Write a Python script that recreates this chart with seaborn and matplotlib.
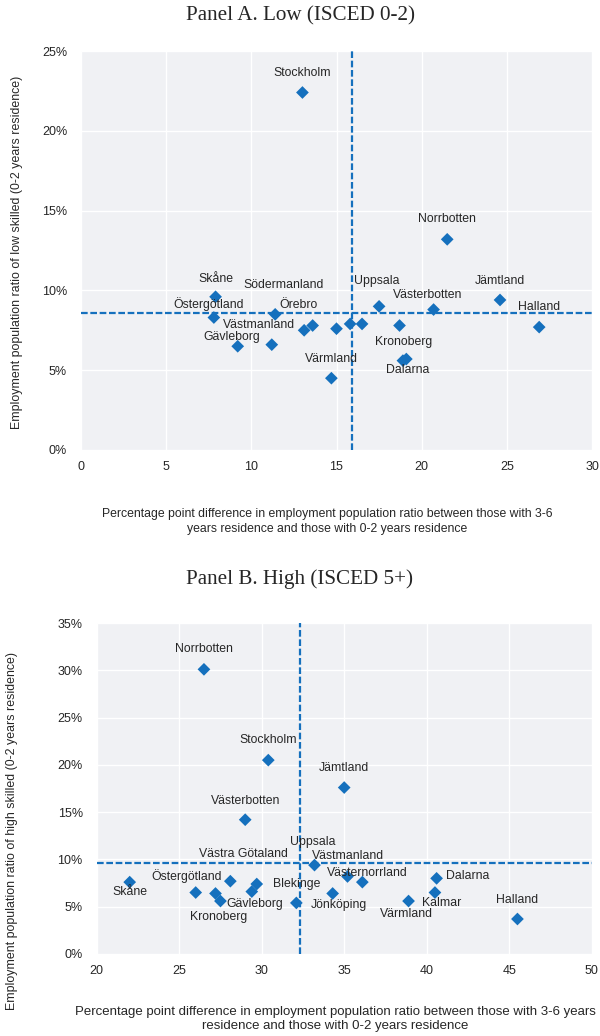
import matplotlib
matplotlib.use("Agg")
import matplotlib.pyplot as plt
import seaborn as sns
import pandas as pd
from matplotlib.ticker import PercentFormatter, MultipleLocator

# ---- Panel A: low-skilled (ISCED 0-2) ----
low_regions = ["Stockholm", "Norrbotten", "Skåne", "Östergötland", "Södermanland",
               "Örebro", "Västmanland", "Gävleborg", "Värmland", "Uppsala",
               "Västerbotten", "Jämtland", "Halland", "Kronoberg", "Dalarna",
               "Jönköping", "Kalmar", "Blekinge", "Västra Götaland", "Västernorrland"]
low_gap = [13.0, 21.5, 7.9, 7.8, 11.4,
           13.6, 11.2, 9.2, 14.7, 17.5,
           20.7, 24.6, 26.9, 19.1, 18.9,
           13.1, 15.0, 15.8, 16.5, 18.7]
low_epr = [22.4, 13.2, 9.6, 8.3, 8.5,
           7.8, 6.6, 6.5, 4.5, 9.0,
           8.8, 9.4, 7.7, 5.7, 5.6,
           7.5, 7.6, 7.9, 7.9, 7.8]
low_avg_gap = 15.9
low_avg_epr = 8.6

# ---- Panel B: high-skilled (ISCED 5+) ----
high_regions = ["Norrbotten", "Stockholm", "Jämtland", "Västerbotten", "Skåne",
                "Östergötland", "Västra Götaland", "Uppsala", "Västmanland", "Västernorrland",
                "Blekinge", "Gävleborg", "Kronoberg", "Jönköping", "Värmland",
                "Dalarna", "Kalmar", "Halland", "Södermanland", "Örebro"]
high_gap = [26.5, 30.4, 35.0, 29.0, 22.0,
            26.0, 28.1, 33.2, 35.2, 36.1,
            32.1, 29.4, 27.5, 34.3, 38.9,
            40.6, 40.5, 45.5, 27.2, 29.7]
high_epr = [30.1, 20.5, 17.6, 14.2, 7.6,
            6.5, 7.7, 9.4, 8.2, 7.6,
            5.4, 6.6, 5.6, 6.4, 5.6,
            8.0, 6.5, 3.7, 6.4, 7.4]
high_avg_gap = 32.3
high_avg_epr = 9.6

# label placement (offset in pixels from the marker, horizontal alignment)
low_label_pos = {
    "Stockholm": (0, 19, "center"), "Norrbotten": (0, 20, "center"),
    "Skåne": (0, 18, "center"), "Östergötland": (-5, 13, "center"),
    "Södermanland": (8, 29, "center"), "Örebro": (-14, 21, "center"),
    "Västmanland": (-13, 20, "center"), "Gävleborg": (-6, 9, "center"),
    "Värmland": (0, 19, "center"), "Uppsala": (-2, 25, "center"),
    "Västerbotten": (-6, 15, "center"), "Jämtland": (0, 19, "center"),
    "Halland": (0, 20, "center"), "Kronoberg": (-3, 17, "center"),
    "Dalarna": (5, -9, "center"),
}
high_label_pos = {
    "Norrbotten": (0, 20, "center"), "Stockholm": (0, 20, "center"),
    "Jämtland": (0, 20, "center"), "Västerbotten": (0, 19, "center"),
    "Skåne": (0, -10, "center"), "Östergötland": (-9, 16, "center"),
    "Västra Götaland": (13, 27, "center"), "Uppsala": (-2, 23, "center"),
    "Västmanland": (0, 20, "center"), "Västernorrland": (5, 9, "center"),
    "Blekinge": (0, 19, "center"), "Gävleborg": (3, -12, "center"),
    "Kronoberg": (-2, -16, "center"), "Jönköping": (6, -12, "center"),
    "Värmland": (-2, -13, "center"), "Dalarna": (9, 2, "left"),
    "Kalmar": (7, -10, "center"), "Halland": (0, 19, "center"),
}

sns.set_theme(style="darkgrid")
plt.rcParams["font.family"] = ["Liberation Sans", "DejaVu Sans"]

BLUE = "#1570BD"
TEXT = "#262626"
W, H = 600, 1036
fig = plt.figure(figsize=(W / 100, H / 100), dpi=100, facecolor="white")


def panel(rect, names, gx, gy, avg_x, avg_y, label_pos, xlim, ylim, ypad):
    ax = fig.add_axes(rect)
    df = pd.DataFrame({"name": names, "gap": gx, "epr": gy})
    ax.set_facecolor("#F0F1F4")
    ax.grid(True, color="white", linewidth=1.0)
    ax.set_axisbelow(True)
    for s in ax.spines.values():
        s.set_visible(False)
    ax.axvline(avg_x, color=BLUE, linewidth=1.6, linestyle=(0, (3, 1.2)), zorder=2)
    ax.axhline(avg_y, color=BLUE, linewidth=1.6, linestyle=(0, (3, 1.2)), zorder=2)
    sns.scatterplot(data=df, x="gap", y="epr", marker="D", s=42, color=BLUE,
                    edgecolor="none", linewidth=0, ax=ax, zorder=3)
    for n, x, y in zip(names, gx, gy):
        if n in label_pos:
            dx, dy, ha = label_pos[n]
            ax.annotate(n, (x, y), xytext=(dx, dy), textcoords="offset pixels",
                        ha=ha, va="center", fontsize=8.8, color=TEXT, zorder=4)
    ax.set_xlim(*xlim)
    ax.set_ylim(*ylim)
    ax.xaxis.set_major_locator(MultipleLocator(5))
    ax.yaxis.set_major_locator(MultipleLocator(5))
    ax.yaxis.set_major_formatter(PercentFormatter(100, decimals=0))
    ax.tick_params(axis="both", length=0, labelsize=9, labelcolor=TEXT)
    ax.tick_params(axis="y", pad=ypad)
    ax.tick_params(axis="x", pad=8)
    ax.set_xlabel("")
    ax.set_ylabel("")
    return ax


SERIF = ["Liberation Serif", "DejaVu Serif"]

# Panel A
panel([81 / W, 1 - 450 / H, 511 / W, 399 / H], low_regions, low_gap, low_epr,
      low_avg_gap, low_avg_epr, low_label_pos, (0, 30), (0, 25), 10)
fig.text(300 / W, 1 - 16 / H, "Panel A. Low (ISCED 0-2)", ha="center", va="center",
         fontsize=15.2, family=SERIF, color=TEXT)
fig.text(327 / W, 1 - 521.5 / H,
         "Percentage point difference in employment population ratio between those with 3-6\n"
         "years residence and those with 0-2 years residence",
         ha="center", va="center", fontsize=8.85, color=TEXT, linespacing=1.4)
fig.text(17 / W, 1 - 252.5 / H,
         "Employment population ratio of low skilled (0-2 years residence)",
         ha="center", va="center", rotation=90, fontsize=8.9, color=TEXT)

# Panel B
panel([96.7 / W, 1 - 954 / H, 495 / W, 331 / H], high_regions, high_gap, high_epr,
      high_avg_gap, high_avg_epr, high_label_pos, (20, 50), (0, 35), 10)
fig.text(300 / W, 1 - 579 / H, "Panel B. High (ISCED 5+)", ha="center", va="center",
         fontsize=15.2, family=SERIF, color=TEXT)
fig.text(335 / W, 1 - 1019 / H,
         "Percentage point difference in employment population ratio between those with 3-6 years\n"
         "residence and those with 0-2 years residence",
         ha="center", va="center", fontsize=9.5, color=TEXT, linespacing=1.2)
fig.text(12 / W, 1 - 831 / H,
         "Employment population ratio of high skilled (0-2 years residence)",
         ha="center", va="center", rotation=90, fontsize=8.9, color=TEXT)

fig.savefig("out.png", dpi=100, facecolor="white")
